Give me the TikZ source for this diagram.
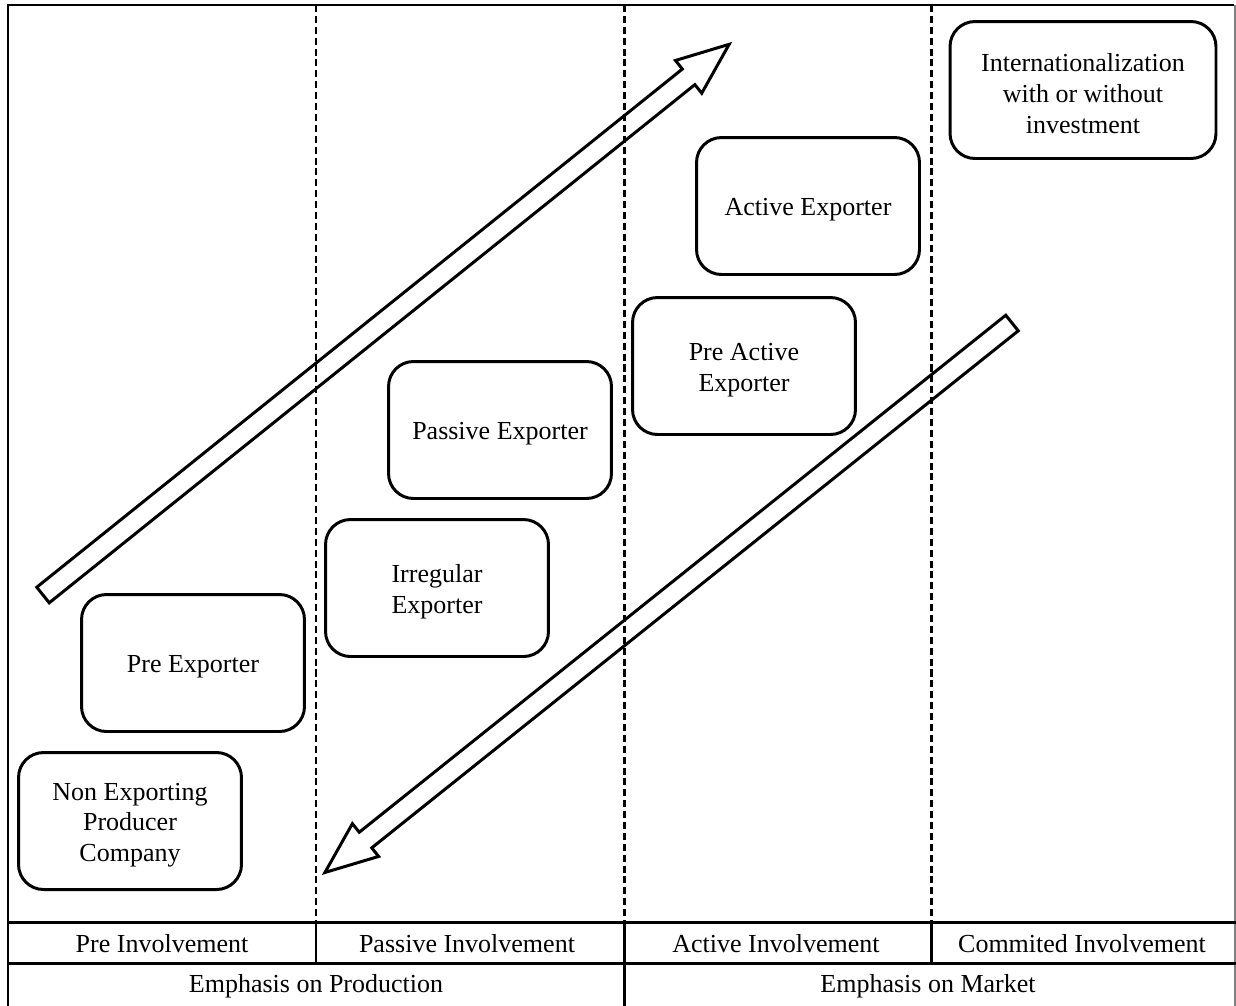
\documentclass[tikz,border=0pt]{standalone}
\usepackage{fontspec}
\setmainfont{Liberation Serif}
\usetikzlibrary{shapes.arrows}
\newcommand{\boxstrut}{\rule{0pt}{14.5pt}}

\begin{document}
\begin{tikzpicture}[x=0.02cm,y=-0.02cm,
  every node/.style={font=\fontsize{14.8}{17.6}\selectfont},
  stagebox/.style={draw,line width=1.7pt,rounded corners=0.5cm,minimum width=4.46cm,minimum height=2.74cm,align=center},
  levelline/.style={line width=1.7pt,dash pattern=on 4pt off 2.2pt},
  tableline/.style={line width=1.7pt},
  flowarrow/.style={draw,line width=1.7pt,single arrow,single arrow tip angle=44,single arrow head extend=0.22cm,inner xsep=0pt,inner ysep=0.17cm,outer sep=0pt,anchor=tail}]
\useasboundingbox (0,0) rectangle (1236,1005);
% frame and table
\draw[tableline] (8,1010) -- (8,5) -- (1234,5);
\draw[gray,line width=0.6pt] (1235,5) -- (1235,1010);
\draw[tableline] (8,922) -- (1236,922);
\draw[tableline] (8,963) -- (1236,963);
\foreach \x in {316,931} \draw[tableline] (\x,922) -- (\x,963);
\draw[tableline] (624,922) -- (624,1010);
\foreach \x in {316,624,931} \draw[levelline] (\x,5) -- (\x,922);
% stages
\node[stagebox] (nonexp) at (130,821) {\boxstrut Non Exporting\\Producer\\Company};
\node[stagebox] (preexp) at (193,663) {\boxstrut Pre Exporter};
\node[stagebox] (irregular) at (437,588) {\boxstrut Irregular\\Exporter};
\node[stagebox] (passive) at (500,430) {\boxstrut Passive Exporter};
\node[stagebox] (preactive) at (744,366) {\boxstrut Pre Active\\Exporter};
\node[stagebox] (active) at (808,206) {\boxstrut Active Exporter};
\node[stagebox,minimum width=5.32cm] (intl) at (1083,90) {\boxstrut Internationalization\\with or without\\investment};
% arrows
\node[flowarrow,minimum height=17.6cm,rotate=38.75] (uparrow) at (43,595) {};
\node[flowarrow,minimum height=17.6cm,rotate=218.65] (downarrow) at (1012,323) {};
% labels
\node (pre) at (162,944) {Pre Involvement};
\node (passiveinv) at (467,944) {Passive Involvement};
\node (activeinv) at (776,944) {Active Involvement};
\node (commited) at (1082,944) {Commited Involvement};
\node (production) at (316,986) {Emphasis on Production};
\node (market) at (928,986) {Emphasis on Market};
\end{tikzpicture}
\end{document}
